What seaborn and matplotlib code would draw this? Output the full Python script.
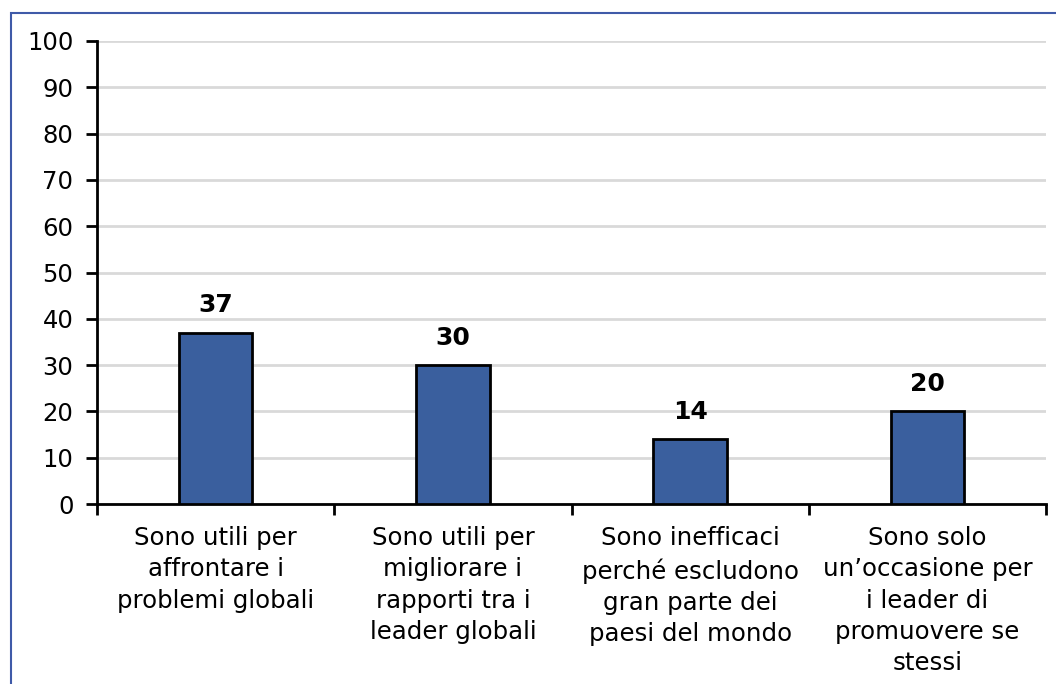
import matplotlib
matplotlib.use("Agg")
import matplotlib.pyplot as plt
import seaborn as sns
import pandas as pd
from matplotlib.patches import Rectangle

categories = [
    "Sono utili per\naffrontare i\nproblemi globali",
    "Sono utili per\nmigliorare i\nrapporti tra i\nleader globali",
    "Sono inefficaci\nperché escludono\ngran parte dei\npaesi del mondo",
    "Sono solo\nun\u2019occasione per\ni leader di\npromuovere se\nstessi",
]
values = [37, 30, 14, 20]
yticks = [0, 10, 20, 30, 40, 50, 60, 70, 80, 90, 100]

sns.set_theme(style="white")
plt.rcParams['font.family'] = ['DejaVu Sans']

fig = plt.figure(figsize=(10.56, 6.84), dpi=100)
ax = fig.add_axes([97/1056, 1 - 504/684, (1046 - 97)/1056, (504 - 41)/684])

df = pd.DataFrame({"cat": categories, "val": values})
sns.barplot(data=df, x="cat", y="val", ax=ax, color="#3A5F9E",
            edgecolor="black", linewidth=2, width=0.31, saturation=1, zorder=3)

ax.set_xlim(-0.5, len(categories) - 0.5)
ax.set_ylim(0, 100)
ax.set_yticks(yticks)
ax.set_yticklabels([str(v) for v in yticks], fontsize=17.5, color="black")
ax.yaxis.grid(True, color="#D9D9D9", linewidth=2, zorder=0)
ax.set_axisbelow(True)
ax.set_xlabel("")
ax.set_ylabel("")

ax.set_xticks(range(len(categories)))
ax.set_xticklabels(categories, fontsize=17.6, color="black", linespacing=1.38)
ax.tick_params(axis="x", which="major", length=0, pad=16)
ax.set_xticks([i - 0.5 for i in range(len(categories) + 1)], minor=True)
ax.tick_params(axis="x", which="minor", length=8, width=2, color="black", direction="out", bottom=True)
ax.tick_params(axis="y", which="major", length=8, width=2, color="black", direction="out", left=True, pad=9)

for s in ["top", "right"]:
    ax.spines[s].set_visible(False)
for s in ["left", "bottom"]:
    ax.spines[s].set_color("black")
    ax.spines[s].set_linewidth(2)

for i, v in enumerate(values):
    ax.annotate(str(v), (i, v), xytext=(0, 11), textcoords="offset points",
                ha="center", va="bottom", fontsize=18, fontweight="bold", color="black")

fig.patches.append(Rectangle((11/1056, -0.1), 1.2, 1 - 12.5/684 + 0.1,
                             transform=fig.transFigure, fill=False,
                             edgecolor="#3F5AA8", linewidth=1.5, zorder=10))

fig.savefig("out.png", dpi=100)
